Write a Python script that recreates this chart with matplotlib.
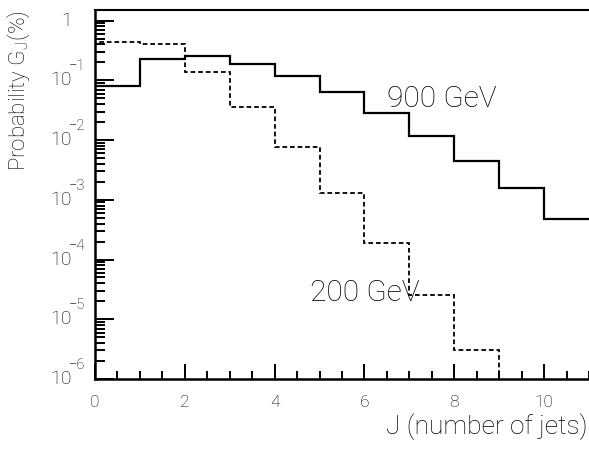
import numpy as np
import matplotlib
matplotlib.use("Agg")
import matplotlib.pyplot as plt
import matplotlib.ticker as ticker
from matplotlib.transforms import offset_copy

# ── Data ──────────────────────────────────────────────────────────
edges_900 = np.arange(0, 12)
prob_900 = [0.081, 0.23, 0.25, 0.19, 0.118, 0.0625, 0.028,
            0.0119, 0.0044, 0.00156, 0.00048]

edges_200 = np.arange(0, 10)
prob_200 = [0.44, 0.40, 0.14, 0.036, 0.0076, 0.0013, 1.9e-4,
            2.5e-5, 3.0e-6]

y_decades = [-6, -5, -4, -3, -2, -1, 0]

Y_MIN, Y_MAX = 1e-6, 1.5

# ── Style ─────────────────────────────────────────────────────────
plt.rcParams.update({
    "font.family": ["Roboto", "DejaVu Sans"],
    "font.weight": "light",
    "text.color": "black",
    "axes.linewidth": 1.5,
    "xtick.direction": "in",
    "ytick.direction": "in",
})

fig = plt.figure(figsize=(5.89, 4.49), dpi=100)
ax = fig.add_axes([95 / 589, 1 - 379 / 449, 1 - 95 / 589, (379 - 10) / 449])

ax.stairs(prob_900, edges_900, baseline=None, color="black", lw=1.6)
ax.stairs(prob_200, edges_200, baseline=Y_MIN, color="black", lw=1.3,
          linestyle=(0, (2.6, 1.6)))

ax.set_yscale("log")
ax.set_xlim(0, 11)
ax.set_ylim(Y_MIN, Y_MAX)

ax.xaxis.set_major_locator(ticker.MultipleLocator(2))
ax.xaxis.set_minor_locator(ticker.MultipleLocator(0.5))
ax.yaxis.set_major_locator(ticker.LogLocator(base=10, numticks=10))
ax.yaxis.set_minor_locator(ticker.LogLocator(base=10, subs=np.arange(2, 10),
                                             numticks=20))
ax.yaxis.set_major_formatter(ticker.NullFormatter())
ax.yaxis.set_minor_formatter(ticker.NullFormatter())

ax.tick_params(axis="y", which="major", length=13.5, width=1.4)
ax.tick_params(axis="y", which="minor", length=7, width=1.4)
ax.tick_params(axis="x", which="major", length=10.5, width=1.4,
               labelsize=12.5, pad=11.5)
ax.tick_params(axis="x", which="minor", length=5.5, width=1.4)
ax.spines["right"].set_visible(False)
ax.spines["left"].set_linewidth(1.8)
ax.spines["bottom"].set_linewidth(1.8)

# ROOT-style y labels: "10" with the exponent tucked over its right side
ytrans = ax.get_yaxis_transform()
base_tr = offset_copy(ytrans, fig, x=-23 * 0.72, y=0, units="points")
exp_tr = offset_copy(ytrans, fig, x=-26 * 0.72, y=10 * 0.72, units="points")
for e in y_decades:
    v = 10.0 ** e
    if e == 0:
        ax.text(0, v, "1", transform=base_tr, fontsize=14,
                ha="right", va="center")
        continue
    ax.text(0, v, "10", transform=base_tr, fontsize=14,
            ha="right", va="center")
    ax.text(0, v, f"\u2212{-e}", transform=exp_tr, fontsize=10.5,
            ha="left", va="baseline")

ax.text(6.5, 0.0495, "900 GeV", fontsize=21.5, va="center", ha="left")
ax.text(4.78, 2.76e-5, "200 GeV", fontsize=21.5, va="center", ha="left")

fig.text(588 / 589, 1 - 427 / 449, "J (number of jets)", fontsize=19,
         ha="right", va="center")
fig.text(19 / 589, 1 - 91 / 449, r"Probability G$_\mathregular{J}$(%)",
         fontsize=16, rotation=90, ha="center", va="center")

fig.savefig("out.png", dpi=100)
